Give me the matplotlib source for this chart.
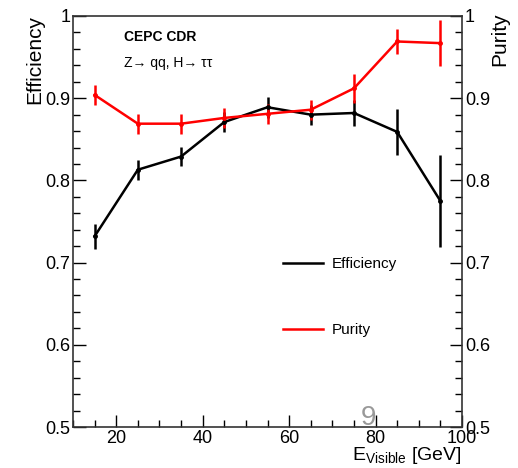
import numpy as np
import matplotlib
matplotlib.use("Agg")
import matplotlib.pyplot as plt
from matplotlib.ticker import MultipleLocator
from matplotlib.lines import Line2D

plt.rcParams["font.family"] = ["Liberation Sans", "DejaVu Sans"]
plt.rcParams["mathtext.fontset"] = "custom"
plt.rcParams["mathtext.rm"] = "Liberation Sans"
plt.rcParams["mathtext.it"] = "Liberation Sans"

# --- Dane ---
e_visible = [15, 25, 35, 45, 55, 65, 75, 85, 95]
efficiency = [0.732, 0.813, 0.829, 0.871, 0.889, 0.880, 0.882, 0.859, 0.775]
efficiency_err = [0.015, 0.012, 0.012, 0.012, 0.013, 0.012, 0.016, 0.028, 0.056]
purity = [0.904, 0.869, 0.869, 0.876, 0.881, 0.886, 0.912, 0.969, 0.967]
purity_err = [0.012, 0.012, 0.012, 0.012, 0.012, 0.012, 0.018, 0.015, 0.028]
y_ticks = [0.5, 0.6, 0.7, 0.8, 0.9, 1.0]
y_tick_labels = ["0.5", "0.6", "0.7", "0.8", "0.9", "1"]

fig = plt.figure(figsize=(5.18, 4.68), dpi=100)
ax = fig.add_axes([73 / 518, 1 - 427 / 468, 389 / 518, 411 / 468])

ax.errorbar(e_visible, efficiency, yerr=efficiency_err, color="black", lw=1.8,
            elinewidth=1.8, capsize=0, marker="o", ms=2.5)
ax.errorbar(e_visible, purity, yerr=purity_err, color="red", lw=1.8,
            elinewidth=1.8, capsize=0, marker="o", ms=2.5)

ax.set_xlim(10, 100)
ax.set_ylim(0.5, 1.0)
ax.xaxis.set_major_locator(MultipleLocator(20))
ax.xaxis.set_minor_locator(MultipleLocator(5))
ax.set_yticks(y_ticks)
ax.set_yticklabels(y_tick_labels)
ax.yaxis.set_minor_locator(MultipleLocator(0.02))
ax.tick_params(which="both", direction="in", top=False, right=True,
               labelright=True, labelsize=13, pad=2)
ax.tick_params(which="major", length=9, width=1)
ax.tick_params(which="minor", length=5, width=1)
for s in ax.spines.values():
    s.set_linewidth(1.2)
    s.set_color("#333333")

# --- Opisy ---
fig.text(35 / 518, 1 - 15 / 468, "Efficiency", rotation=90, ha="center", va="top", fontsize=15)
fig.text(500 / 518, 1 - 12 / 468, "Purity", rotation=90, ha="center", va="top", fontsize=15)
fig.text(462 / 518, 1 - 466 / 468, r"E$_{\mathrm{Visible}}$ [GeV]", ha="right", va="bottom", fontsize=14)
ax.text(0.13, 0.95, "CEPC CDR", transform=ax.transAxes, fontsize=10, fontweight="bold", va="center")
ax.text(0.13, 0.885, "Z→ qq, H→ ττ", transform=ax.transAxes, fontsize=10, va="center")
fig.text(368 / 518, 1 - 418 / 468, "9", color="gray", fontsize=20, ha="center", va="center", alpha=0.8)

handles = [Line2D([], [], color="black", lw=1.8), Line2D([], [], color="red", lw=1.8)]
ax.legend(handles, ["Efficiency", "Purity"], loc="upper left", bbox_to_anchor=(0.52, 0.432),
          frameon=False, fontsize=11, labelspacing=3.4, handlelength=2.6,
          borderpad=0, handletextpad=0.6)

fig.savefig("out.png", dpi=100)
